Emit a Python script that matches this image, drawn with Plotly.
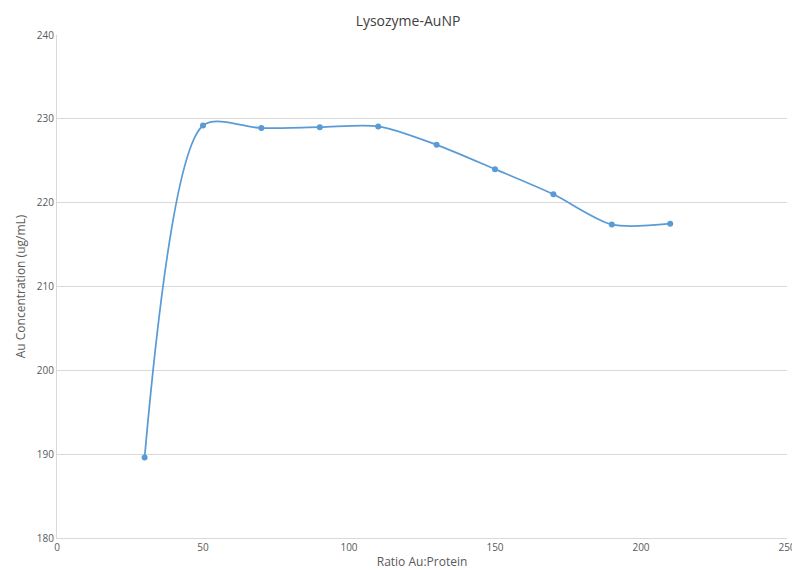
import plotly.graph_objects as go

ratio = [30, 50, 70, 90, 110, 130, 150, 170, 190, 210]
au_conc = [189.6, 229.2, 228.9, 229.0, 229.1, 226.9, 224.0, 221.0, 217.4, 217.5]

fig = go.Figure()
fig.add_trace(go.Scatter(
    x=ratio, y=au_conc, mode="lines+markers",
    line=dict(color="#5b9bd5", width=1.75, shape="spline", smoothing=0.8),
    marker=dict(color="#5b9bd5", size=6),
))
fig.update_layout(
    width=800, height=570,
    title=dict(text="Lysozyme-AuNP", x=0.5, y=0.985, font=dict(size=14, color="#404040")),
    font=dict(family="Open Sans", size=10, color="#595959"),
    margin=dict(l=43, r=14, t=27, b=33),
    plot_bgcolor="white", paper_bgcolor="white",
    showlegend=False,
)
fig.update_xaxes(range=[0, 250], dtick=50, showgrid=False, zeroline=False,
                 showline=True, linecolor="#d9d9d9", ticks="",
                 title=dict(text="Ratio Au:Protein", standoff=4))
fig.update_yaxes(range=[180, 240], dtick=10, gridcolor="#d9d9d9", zeroline=False,
                 showline=True, linecolor="#d9d9d9", ticks="",
                 title=dict(text="Au Concentration (ug/mL)", standoff=8))
fig.write_html("out.html")
